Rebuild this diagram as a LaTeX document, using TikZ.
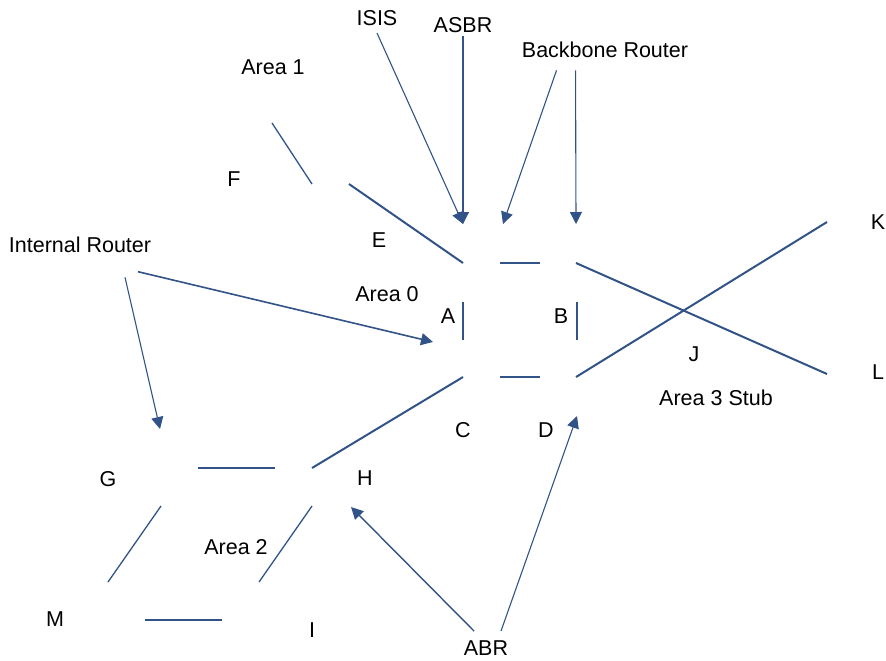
\documentclass[tikz,border=0pt]{standalone}
\usepackage{fontspec}
\setmainfont{Liberation Sans}
\usetikzlibrary{arrows.meta}

\definecolor{linkblue}{RGB}{50,83,135}
\tikzset{
  lbl/.style={inner sep=0pt, font=\fontsize{10.75}{13}\selectfont},
  link/.style={draw=linkblue, line width=1pt},
  thinlink/.style={draw=linkblue, line width=0.65pt},
  pointer/.style={draw=linkblue, line width=0.55pt, -{Triangle[length=6pt,width=6pt]}}
}

\begin{document}
\begin{tikzpicture} [x=0.5pt,y=-0.5pt]

\useasboundingbox (0,0) rectangle (886,660);

% labels
\node[lbl] (isis) at (377,18) {ISIS};
\node[lbl] (asbr) at (463,25) {ASBR};
\node[lbl] (bbr) at (605,50) {Backbone Router};
\node[lbl] (area1) at (273,67) {Area 1};
\node[lbl] (F) at (234,179) {F};
\node[lbl] (E) at (379,240) {E};
\node[lbl] (ir) at (80,245) {Internal Router};
\node[lbl] (area0) at (387,294) {Area 0};
\node[lbl] (A) at (448,316) {A};
\node[lbl] (B) at (561,316) {B};
\node[lbl] (K) at (878,222) {K};
\node[lbl] (J) at (694,354) {J};
\node[lbl] (L) at (878,372) {L};
\node[lbl] (area3) at (716,398) {Area 3 Stub};
\node[lbl] (C) at (463,430) {C};
\node[lbl] (D) at (546,430) {D};
\node[lbl] (G) at (108,479) {G};
\node[lbl] (H) at (365,478) {H};
\node[lbl] (area2) at (236,547) {Area 2};
\node[lbl] (M) at (55,619) {M};
\node[lbl] (I) at (312,630) {I};
\node[lbl] (abr) at (486,648) {ABR};

% link ends
\coordinate (f1) at (272,123);
\coordinate (f2) at (312,184);
\coordinate (e1) at (349,184);
\coordinate (e2) at (463,263);
\coordinate (top1) at (500,263);
\coordinate (top2) at (540,263);
\coordinate (a1) at (463,302);
\coordinate (a2) at (463,340);
\coordinate (b1) at (577,302);
\coordinate (b2) at (577,340);
\coordinate (bot1) at (500,377);
\coordinate (bot2) at (540,377);
\coordinate (bl1) at (576,263);
\coordinate (bl2) at (827,374);
\coordinate (dk1) at (576,377);
\coordinate (dk2) at (827,222);
\coordinate (ch1) at (463,377);
\coordinate (ch2) at (312,468);
\coordinate (gh1) at (198,468);
\coordinate (gh2) at (275,468);
\coordinate (gm1) at (161,506);
\coordinate (gm2) at (108,582);
\coordinate (hi1) at (312,506);
\coordinate (hi2) at (259,582);
\coordinate (mi1) at (145,620);
\coordinate (mi2) at (222,620);

% arrow tips
\coordinate (asbrtip) at (463,224);
\coordinate (bbrtip1) at (503,224);
\coordinate (bbrtip2) at (576,224);
\coordinate (irtipA) at (433,342);
\coordinate (irtipG) at (160,429);
\coordinate (abrtipH) at (351,507);
\coordinate (abrtipD) at (577,416);

% links
\draw[thinlink] (f1) -- (f2);
\draw[link] (e1) -- (e2);
\draw[link] (top1) -- (top2);
\draw[thinlink] (a1) -- (a2);
\draw[thinlink] (b1) -- (b2);
\draw[link] (bot1) -- (bot2);
\draw[link] (bl1) -- (bl2);
\draw[link] (dk1) -- (dk2);
\draw[link] (ch1) -- (ch2);
\draw[link] (gh1) -- (gh2);
\draw[thinlink] (gm1) -- (gm2);
\draw[thinlink] (hi1) -- (hi2);
\draw[link] (mi1) -- (mi2);

% pointers
\draw[pointer] ([yshift=-3.5pt]isis.south) -- (asbrtip);
\draw[pointer] ([yshift=-1.5pt]asbr.south) -- (asbrtip);
\draw[pointer] ([xshift=17.5pt,yshift=-6pt]bbr.south west) -- (bbrtip1);
\draw[pointer] ([xshift=27pt,yshift=-6pt]bbr.south west) -- (bbrtip2);
\draw[pointer,line width=0.8pt] ([xshift=29pt,yshift=-9.2pt]ir.south) -- (irtipA);
\draw[pointer] ([xshift=22.5pt,yshift=-12pt]ir.south) -- (irtipG);
\draw[pointer,line width=0.7pt] ([xshift=-6pt,yshift=4.6pt]abr.north) -- (abrtipH);
\draw[pointer] ([xshift=7.5pt,yshift=4.6pt]abr.north) -- (abrtipD);

\end{tikzpicture}
\end{document}
